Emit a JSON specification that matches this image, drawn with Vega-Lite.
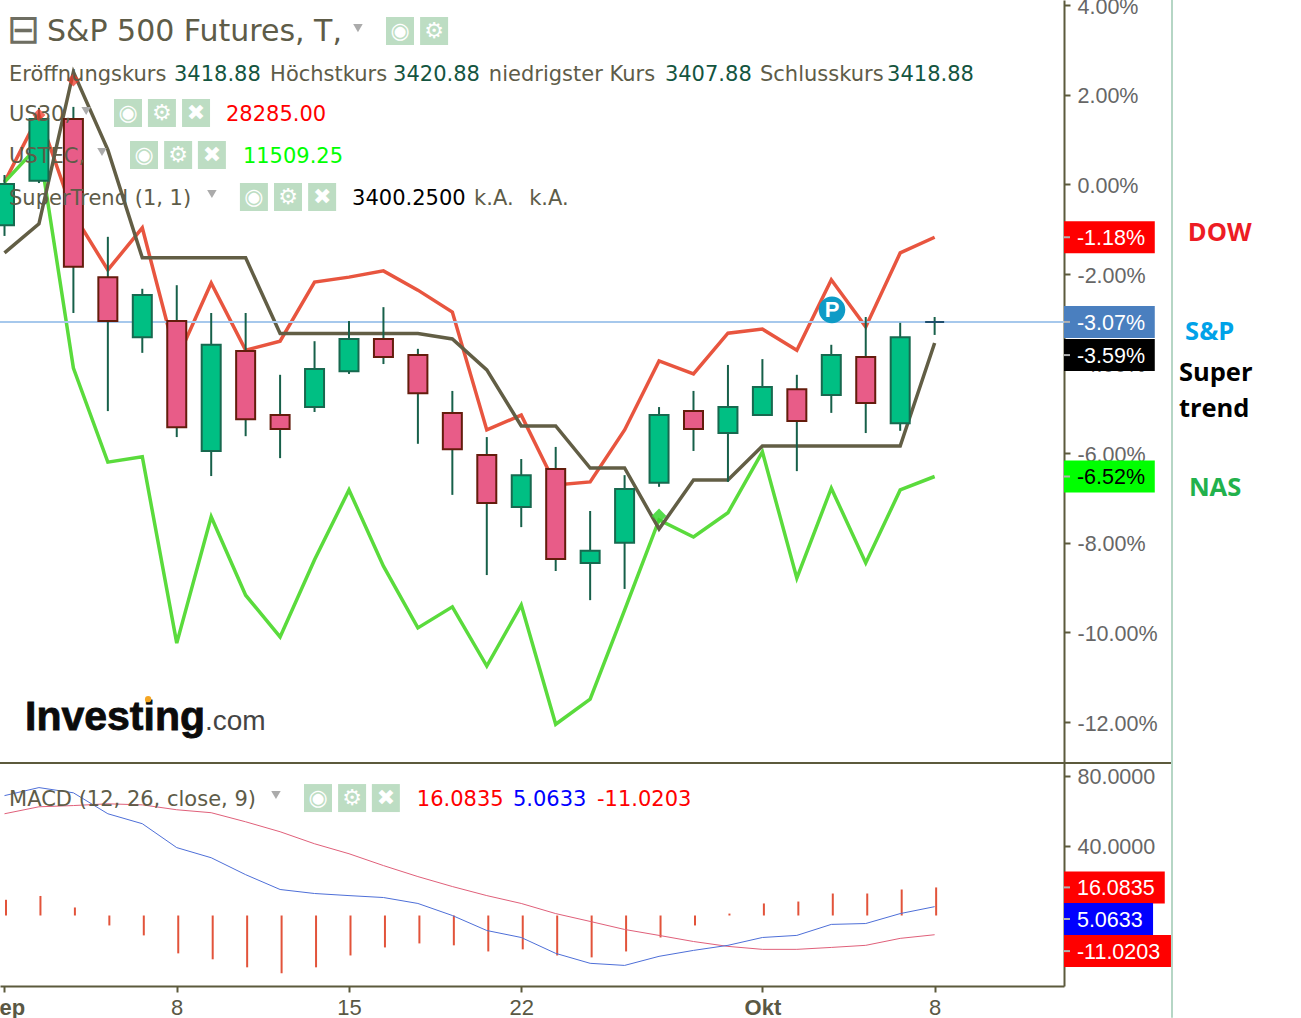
{
  "$schema": "https://vega.github.io/schema/vega-lite/v6.json",
  "width": 1301,
  "height": 1018,
  "padding": 0,
  "autosize": {"type": "none"},
  "background": "white",
  "config": {"view": {"stroke": null}},
  "datasets": {
    "days": [
      {"day":0,"top":0.01,"bottom":-0.91,"high":0.21,"low":-1.15,"dir":"up","dow":0.05,"nas":0.05,"supertrend":-1.53,"macd":68.7,"signal":58.3,"hist":9.0},
      {"day":1,"top":1.46,"bottom":0.08,"high":1.71,"low":0.03,"dir":"up","dow":1.55,"nas":0.88,"supertrend":-0.88,"macd":73.3,"signal":62.3,"hist":11.2},
      {"day":2,"top":1.46,"bottom":-1.84,"high":1.73,"low":-2.87,"dir":"down","dow":-0.66,"nas":-4.10,"supertrend":2.51,"macd":70.3,"signal":63.0,"hist":4.6},
      {"day":3,"top":-2.07,"bottom":-3.05,"high":-1.17,"low":-5.06,"dir":"down","dow":-1.91,"nas":-6.20,"supertrend":0.77,"macd":58.3,"signal":64.0,"hist":-5.7},
      {"day":4,"top":-2.47,"bottom":-3.41,"high":-2.33,"low":-3.76,"dir":"up","dow":-0.97,"nas":-6.08,"supertrend":-1.64,"macd":52.6,"signal":63.4,"hist":-11.4},
      {"day":5,"top":-3.05,"bottom":-5.42,"high":-2.25,"low":-5.64,"dir":"down","dow":-3.92,"nas":-10.24,"supertrend":-1.64,"macd":38.9,"signal":60.6,"hist":-21.7},
      {"day":6,"top":-3.58,"bottom":-5.95,"high":-2.87,"low":-6.51,"dir":"up","dow":-2.20,"nas":-7.42,"supertrend":-1.64,"macd":33.1,"signal":58.9,"hist":-25.1},
      {"day":7,"top":-3.72,"bottom":-5.24,"high":-2.87,"low":-5.62,"dir":"down","dow":-3.70,"nas":-9.17,"supertrend":-1.64,"macd":23.4,"signal":53.7,"hist":-29.7},
      {"day":8,"top":-5.15,"bottom":-5.46,"high":-4.25,"low":-6.11,"dir":"down","dow":-3.50,"nas":-10.10,"supertrend":-3.33,"macd":14.9,"signal":48.0,"hist":-33.1},
      {"day":9,"top":-4.12,"bottom":-4.97,"high":-3.50,"low":-5.08,"dir":"up","dow":-2.18,"nas":-8.38,"supertrend":-3.33,"macd":12.6,"signal":41.1,"hist":-29.7},
      {"day":10,"top":-3.45,"bottom":-4.17,"high":-3.05,"low":-4.23,"dir":"up","dow":-2.07,"nas":-6.82,"supertrend":-3.33,"macd":11.4,"signal":35.4,"hist":-22.9},
      {"day":11,"top":-3.45,"bottom":-3.85,"high":-2.74,"low":-4.01,"dir":"down","dow":-1.93,"nas":-8.52,"supertrend":-3.33,"macd":10.3,"signal":28.6,"hist":-18.3},
      {"day":12,"top":-3.81,"bottom":-4.66,"high":-3.67,"low":-5.79,"dir":"down","dow":-2.36,"nas":-9.90,"supertrend":-3.33,"macd":6.9,"signal":22.3,"hist":-16.0},
      {"day":13,"top":-5.10,"bottom":-5.91,"high":-4.61,"low":-6.93,"dir":"down","dow":-2.85,"nas":-9.43,"supertrend":-3.45,"macd":0.0,"signal":16.6,"hist":-17.1},
      {"day":14,"top":-6.04,"bottom":-7.11,"high":-5.64,"low":-8.72,"dir":"down","dow":-5.48,"nas":-10.75,"supertrend":-4.14,"macd":-8.6,"signal":11.4,"hist":-20.6},
      {"day":15,"top":-6.49,"bottom":-7.20,"high":-6.13,"low":-7.65,"dir":"up","dow":-5.15,"nas":-9.39,"supertrend":-5.39,"macd":-12.6,"signal":6.9,"hist":-19.4},
      {"day":16,"top":-6.35,"bottom":-8.36,"high":-5.86,"low":-8.63,"dir":"down","dow":-6.71,"nas":-12.05,"supertrend":-5.39,"macd":-21.7,"signal":1.1,"hist":-22.9},
      {"day":17,"top":-8.18,"bottom":-8.45,"high":-7.29,"low":-9.28,"dir":"up","dow":-6.64,"nas":-11.49,"supertrend":-6.33,"macd":-27.4,"signal":-3.4,"hist":-24.0},
      {"day":18,"top":-6.80,"bottom":-8.00,"high":-6.49,"low":-9.03,"dir":"up","dow":-5.48,"nas":-9.50,"supertrend":-6.33,"macd":-28.6,"signal":-8.0,"hist":-20.6},
      {"day":19,"top":-5.15,"bottom":-6.66,"high":-4.97,"low":-6.75,"dir":"up","dow":-3.94,"nas":-7.49,"supertrend":-7.69,"macd":-23.4,"signal":-11.4,"hist":-12.6},
      {"day":20,"top":-5.06,"bottom":-5.46,"high":-4.61,"low":-5.95,"dir":"down","dow":-4.23,"nas":-7.87,"supertrend":-6.60,"macd":-20.0,"signal":-14.9,"hist":-5.7},
      {"day":21,"top":-4.97,"bottom":-5.55,"high":-4.03,"low":-6.64,"dir":"up","dow":-3.32,"nas":-7.33,"supertrend":-6.60,"macd":-17.1,"signal":-17.7,"hist":1.1},
      {"day":22,"top":-4.52,"bottom":-5.15,"high":-3.90,"low":-5.17,"dir":"up","dow":-3.23,"nas":-5.97,"supertrend":-5.84,"macd":-12.6,"signal":-19.4,"hist":6.9},
      {"day":23,"top":-4.57,"bottom":-5.28,"high":-4.25,"low":-6.40,"dir":"down","dow":-3.70,"nas":-8.79,"supertrend":-5.84,"macd":-11.4,"signal":-19.4,"hist":8.0},
      {"day":24,"top":-3.81,"bottom":-4.70,"high":-3.58,"low":-5.10,"dir":"up","dow":-2.13,"nas":-6.78,"supertrend":-5.84,"macd":-5.1,"signal":-18.3,"hist":12.6},
      {"day":25,"top":-3.85,"bottom":-4.88,"high":-2.96,"low":-5.55,"dir":"down","dow":-3.18,"nas":-8.45,"supertrend":-5.84,"macd":-4.6,"signal":-17.1,"hist":12.6},
      {"day":26,"top":-3.41,"bottom":-5.33,"high":-3.09,"low":-5.50,"dir":"up","dow":-1.53,"nas":-6.82,"supertrend":-5.84,"macd":1.1,"signal":-13.1,"hist":14.9},
      {"day":27,"top":-3.07,"bottom":-3.07,"high":-2.96,"low":-3.36,"dir":"flat","dow":-1.18,"nas":-6.52,"supertrend":-3.54,"macd":5.06,"signal":-11.02,"hist":16.08}
    ]
  },
  "encoding": {
    "x": {
      "field": "day",
      "type": "quantitative",
      "scale": {"domain": [-0.1306, 30.755], "range": [0, 1064], "nice": false, "zero": false, "padding": 0},
      "axis": {
        "orient": "bottom",
        "offset": -32,
        "title": null,
        "grid": false,
        "values": [0, 5, 10, 15, 22, 27],
        "labelExpr": "datum.value == 0 ? 'Sep' : datum.value == 5 ? '8' : datum.value == 10 ? '15' : datum.value == 15 ? '22' : datum.value == 22 ? 'Okt' : '8'",
        "labelFontWeight": {"condition": {"test": "datum.value == 0 || datum.value == 22", "value": "bold"}, "value": "normal"},
        "labelFont": "Liberation Sans",
        "labelFontSize": 22,
        "labelColor": "#5A5844",
        "labelPadding": 5,
        "labelFlush": false,
        "labelOverlap": false,
        "labelBound": false,
        "domainColor": "#5C5A3C",
        "domainWidth": 2,
        "tickColor": "#5C5A3C",
        "tickWidth": 2,
        "tickSize": 6
      }
    }
  },
  "resolve": {"scale": {"y": "independent"}, "axis": {"y": "independent"}},
  "layer": [
    {
      "encoding": {
        "y": {
          "field": "pct",
          "type": "quantitative",
          "scale": {"domain": [-12.915, 4.116], "range": [763, 0], "nice": false, "zero": false, "padding": 0},
          "axis": {
            "orient": "right",
            "offset": -237,
            "title": null,
            "grid": false,
            "values": [4, 2, 0, -2, -4, -6, -8, -10, -12],
            "labelExpr": "(datum.value < 0 ? '-' : '') + format(abs(datum.value), '.2f') + '%'",
            "labelFont": "Liberation Sans",
            "labelFontSize": 21.5,
            "labelColor": "#666666",
            "labelPadding": 7,
            "labelOffset": 2,
            "labelOverlap": false,
            "labelFlush": false,
            "labelBound": false,
            "domainColor": "#5C5A3C",
            "domainWidth": 2,
            "tickColor": "#5C5A3C",
            "tickWidth": 2,
            "tickSize": 6
          }
        }
      },
      "layer": [
        {
          "data": {"name": "days"},
          "mark": {"type": "line", "color": "#E8553F", "strokeWidth": 3.5},
          "encoding": {"y": {"field": "dow", "type": "quantitative"}}
        },
        {
          "data": {"name": "days"},
          "mark": {"type": "line", "color": "#5ADB3C", "strokeWidth": 3.5},
          "encoding": {"y": {"field": "nas", "type": "quantitative"}}
        },
        {
          "data": {"name": "days"},
          "mark": {"type": "line", "color": "#625E45", "strokeWidth": 3.5},
          "encoding": {"y": {"field": "supertrend", "type": "quantitative"}}
        },
        {
          "data": {"values": [{"day": -0.1306, "day2": 30.755, "pct": -3.07}]},
          "mark": {"type": "rule", "color": "#A6C8EC", "strokeWidth": 2},
          "encoding": {"x2": {"field": "day2"}}
        },
        {
          "data": {"name": "days"},
          "mark": {"type": "rule", "color": "#17604A", "strokeWidth": 2},
          "encoding": {
            "y": {"field": "high", "type": "quantitative"},
            "y2": {"field": "low"}
          }
        },
        {
          "data": {"name": "days"},
          "mark": {"type": "bar", "size": 19, "strokeWidth": 2},
          "encoding": {
            "y": {"field": "top", "type": "quantitative"},
            "y2": {"field": "bottom"},
            "fill": {
              "field": "dir",
              "scale": {
                "domain": ["up", "down", "flat", "dow", "sp", "super", "nas", "hist", "blue", "signal"],
                "range": ["#00BF83", "#E85C88", "#1F4F6F", "#FF0000", "#4A7FBF", "#000000", "#00FF00", "#FF0000", "#0000FF", "#FF0000"]
              },
              "legend": null
            },
            "stroke": {
              "field": "dir",
              "scale": {"domain": ["up", "down", "flat"], "range": ["#17694F", "#641C0C", "#1F4F6F"]},
              "legend": null
            }
          }
        },
        {
          "data": {"values": [{"day": -0.1306, "day2": 33.89, "pct": -12.915}]},
          "mark": {"type": "rule", "color": "#5C5A3C", "strokeWidth": 2},
          "encoding": {"x2": {"field": "day2"}}
        },
        {
          "data": {"values": [{"day": 33.89, "pct": 4.116, "pct2": -18.6}]},
          "mark": {"type": "rule", "color": "#B5D6C5", "strokeWidth": 2},
          "encoding": {"y2": {"field": "pct2"}}
        },
        {
          "data": {"values": [
            {"day": 2, "pct": 2.33},
            {"day": 1, "pct": 1.55}
          ]},
          "mark": {"type": "point", "shape": "diamond", "filled": true, "size": 170, "color": "#EE3A2A", "opacity": 0.75}
        },
        {
          "data": {"values": [{"day": 19, "pct": -7.4}]},
          "mark": {"type": "point", "shape": "diamond", "filled": true, "size": 220, "color": "#38D62E", "opacity": 0.85}
        },
        {
          "data": {"values": [{"day": 24.02, "pct": -2.8}]},
          "mark": {"type": "point", "shape": "circle", "filled": true, "size": 707, "color": "#0E9BC6", "opacity": 1}
        },
        {
          "data": {"values": [{"day": 24.02, "pct": -2.8, "label": "P"}]},
          "mark": {"type": "text", "font": "Liberation Sans", "fontWeight": "bold", "fontSize": 22, "color": "white", "align": "center", "baseline": "middle"},
          "encoding": {"text": {"field": "label"}}
        },
        {
          "data": {"values": [
            {"day": 0.06, "pct": 3.447, "label": "⊟"}
          ]},
          "mark": {"type": "text", "font": "DejaVu Sans", "fontSize": 40, "color": "#6E6E62", "align": "left", "baseline": "middle", "dy": 1},
          "encoding": {"text": {"field": "label"}}
        },
        {
          "data": {"values": [{"day": 1.234, "pct": 3.447, "label": "S&P 500 Futures, T,"}]},
          "mark": {"type": "text", "font": "DejaVu Sans", "fontSize": 30, "color": "#5E5C48", "align": "left", "baseline": "middle", "dy": 2},
          "encoding": {"text": {"field": "label"}}
        },
        {
          "data": {"values": [
            {"day": 0.131, "pct": 2.486, "label": "Eröffnungskurs", "ink": "muted"},
            {"day": 4.92, "pct": 2.486, "label": "3418.88", "ink": "price"},
            {"day": 7.71, "pct": 2.486, "label": "Höchstkurs", "ink": "muted"},
            {"day": 11.28, "pct": 2.486, "label": "3420.88", "ink": "price"},
            {"day": 14.06, "pct": 2.486, "label": "niedrigster Kurs", "ink": "muted"},
            {"day": 19.17, "pct": 2.486, "label": "3407.88", "ink": "price"},
            {"day": 21.93, "pct": 2.486, "label": "Schlusskurs", "ink": "muted"},
            {"day": 25.62, "pct": 2.486, "label": "3418.88", "ink": "price"},
            {"day": 0.131, "pct": 1.594, "label": "US30,", "ink": "muted"},
            {"day": 6.43, "pct": 1.594, "label": "28285.00", "ink": "red"},
            {"day": 0.131, "pct": 0.656, "label": "USTEC,", "ink": "muted"},
            {"day": 6.92, "pct": 0.656, "label": "11509.25", "ink": "lime"},
            {"day": 0.131, "pct": -0.281, "label": "SuperTrend (1, 1)", "ink": "muted"},
            {"day": 10.09, "pct": -0.281, "label": "3400.2500", "ink": "black"},
            {"day": 13.63, "pct": -0.281, "label": "k.A.", "ink": "muted"},
            {"day": 15.23, "pct": -0.281, "label": "k.A.", "ink": "muted"}
          ]},
          "mark": {"type": "text", "font": "DejaVu Sans", "fontSize": 21, "align": "left", "baseline": "middle", "dy": 2},
          "encoding": {
            "text": {"field": "label"},
            "color": {
              "field": "ink",
              "scale": {
                "domain": ["muted", "price", "red", "lime", "black", "blue", "white", "dow", "sp", "nas"],
                "range": ["#5E5C48", "#14553F", "#FF0000", "#00FF00", "#000000", "#0000FF", "#FFFFFF", "#ED1C24", "#00A2E8", "#22B14C"]
              },
              "legend": null
            }
          }
        },
        {
          "data": {"values": [
            {"day": 10.26, "pct": 3.49},
            {"day": 2.37, "pct": 1.638},
            {"day": 2.83, "pct": 0.723},
            {"day": 6.02, "pct": -0.214}
          ]},
          "mark": {"type": "point", "shape": "triangle-down", "filled": true, "size": 90, "color": "#ABABAB", "opacity": 1}
        },
        {
          "data": {"values": [
            {"day": 11.48, "pct": 3.424, "glyph": "◉"},
            {"day": 12.47, "pct": 3.424, "glyph": "⚙"},
            {"day": 3.585, "pct": 1.594, "glyph": "◉"},
            {"day": 4.57, "pct": 1.594, "glyph": "⚙"},
            {"day": 5.56, "pct": 1.594, "glyph": "✖"},
            {"day": 4.05, "pct": 0.656, "glyph": "◉"},
            {"day": 5.04, "pct": 0.656, "glyph": "⚙"},
            {"day": 6.02, "pct": 0.656, "glyph": "✖"},
            {"day": 7.24, "pct": -0.281, "glyph": "◉"},
            {"day": 8.23, "pct": -0.281, "glyph": "⚙"},
            {"day": 9.22, "pct": -0.281, "glyph": "✖"}
          ]},
          "layer": [
            {"mark": {"type": "point", "shape": "square", "filled": true, "size": 784, "color": "#BDDDC3", "opacity": 1}},
            {
              "mark": {"type": "text", "font": "DejaVu Sans", "fontSize": 22, "color": "white", "align": "center", "baseline": "middle"},
              "encoding": {"text": {"field": "glyph"}}
            }
          ]
        },
        {
          "data": {"values": [{"day": 0.595, "pct": -11.97, "label": "Investing"}]},
          "mark": {"type": "text", "font": "Liberation Sans", "fontWeight": "bold", "fontSize": 41, "color": "#0B0B0B", "stroke": "#0B0B0B", "strokeWidth": 0.8, "align": "left", "baseline": "middle", "dy": -3},
          "encoding": {"text": {"field": "label"}}
        },
        {
          "data": {"values": [{"day": 5.82, "pct": -12.02, "label": ".com"}]},
          "mark": {"type": "text", "font": "Liberation Sans", "fontSize": 28, "color": "#444444", "align": "left", "baseline": "middle", "dy": -1},
          "encoding": {"text": {"field": "label"}}
        },
        {
          "data": {"values": [{"day": 4.17, "pct": -11.49}]},
          "mark": {"type": "point", "shape": "circle", "filled": true, "size": 40, "color": "#F5A623", "opacity": 1}
        },
        {
          "data": {"values": [
            {"day": 30.755, "day2": 33.39, "tickEnd": 30.93, "labelDay": 31.13, "pct": -1.18, "tag": "dow", "label": "-1.18%", "ink": "white"},
            {"day": 30.755, "day2": 33.39, "tickEnd": 30.93, "labelDay": 31.13, "pct": -3.07, "tag": "sp", "label": "-3.07%", "ink": "white"},
            {"day": 30.755, "day2": 33.39, "tickEnd": 30.93, "labelDay": 31.13, "pct": -3.81, "tag": "super", "label": "-3.59%", "ink": "white"},
            {"day": 30.755, "day2": 33.39, "tickEnd": 30.93, "labelDay": 31.13, "pct": -6.52, "tag": "nas", "label": "-6.52%", "ink": "black"}
          ]},
          "layer": [
            {
              "mark": {"type": "bar", "orient": "horizontal", "size": 32},
              "encoding": {
                "x2": {"field": "day2"},
                "fill": {
                  "field": "tag",
                  "scale": {
                    "domain": ["up", "down", "flat", "dow", "sp", "super", "nas", "hist", "blue", "signal"],
                    "range": ["#00BF83", "#E85C88", "#1F4F6F", "#FF0000", "#4A7FBF", "#000000", "#00FF00", "#FF0000", "#0000FF", "#FF0000"]
                  },
                  "legend": null
                }
              }
            },
            {
              "mark": {"type": "rule", "color": "#B0B0B0", "strokeWidth": 2},
              "encoding": {"x2": {"field": "tickEnd"}}
            },
            {
              "mark": {"type": "text", "font": "Liberation Sans", "fontSize": 21.5, "align": "left", "baseline": "middle", "dy": 2},
              "encoding": {
                "x": {"field": "labelDay", "type": "quantitative"},
                "text": {"field": "label"},
                "color": {
                  "field": "ink",
                  "scale": {
                    "domain": ["muted", "price", "red", "lime", "black", "blue", "white", "dow", "sp", "nas"],
                    "range": ["#5E5C48", "#14553F", "#FF0000", "#00FF00", "#000000", "#0000FF", "#FFFFFF", "#ED1C24", "#00A2E8", "#22B14C"]
                  },
                  "legend": null
                }
              }
            }
          ]
        },
        {
          "data": {"values": [
            {"day": 34.35, "pct": -1.06, "label": "DOW", "ink": "dow"},
            {"day": 34.27, "pct": -3.27, "label": "S&P", "ink": "sp"},
            {"day": 34.09, "pct": -4.19, "label": "Super", "ink": "black"},
            {"day": 34.09, "pct": -4.99, "label": "trend", "ink": "black"},
            {"day": 34.38, "pct": -6.75, "label": "NAS", "ink": "nas"}
          ]},
          "mark": {"type": "text", "font": "Open Sans", "fontWeight": "bold", "fontSize": 25.5, "align": "left", "baseline": "middle", "dy": 1},
          "encoding": {
            "text": {"field": "label"},
            "color": {
              "field": "ink",
              "scale": {
                "domain": ["muted", "price", "red", "lime", "black", "blue", "white", "dow", "sp", "nas"],
                "range": ["#5E5C48", "#14553F", "#FF0000", "#00FF00", "#000000", "#0000FF", "#FFFFFF", "#ED1C24", "#00A2E8", "#22B14C"]
              },
              "legend": null
            }
          }
        }
      ]
    },
    {
      "encoding": {
        "y": {
          "field": "macd",
          "type": "quantitative",
          "scale": {"domain": [-40.4, 87.39], "range": [986, 763], "nice": false, "zero": false, "padding": 0},
          "axis": {
            "orient": "right",
            "offset": -237,
            "title": null,
            "grid": false,
            "values": [80, 40],
            "format": ".4f",
            "labelFont": "Liberation Sans",
            "labelFontSize": 21.5,
            "labelColor": "#666666",
            "labelPadding": 7,
            "labelOffset": 2,
            "labelOverlap": false,
            "labelFlush": false,
            "labelBound": false,
            "domainColor": "#5C5A3C",
            "domainWidth": 2,
            "tickColor": "#5C5A3C",
            "tickWidth": 2,
            "tickSize": 6
          }
        }
      },
      "layer": [
        {
          "data": {"name": "days"},
          "mark": {"type": "rule", "color": "#E2533A", "strokeWidth": 2, "xOffset": 1.5},
          "encoding": {
            "y": {"field": "hist", "type": "quantitative"},
            "y2": {"datum": 0}
          }
        },
        {
          "data": {"name": "days"},
          "mark": {"type": "line", "color": "#E0607A", "strokeWidth": 1},
          "encoding": {"y": {"field": "signal", "type": "quantitative"}}
        },
        {
          "data": {"name": "days"},
          "mark": {"type": "line", "color": "#4E6FD8", "strokeWidth": 1}
        },
        {
          "data": {"values": [
            {"day": 0.131, "macd": 67.3, "label": "MACD (12, 26, close, 9)", "ink": "muted"},
            {"day": 11.97, "macd": 67.3, "label": "16.0835", "ink": "red"},
            {"day": 14.76, "macd": 67.3, "label": "5.0633", "ink": "blue"},
            {"day": 17.2, "macd": 67.3, "label": "-11.0203", "ink": "red"}
          ]},
          "mark": {"type": "text", "font": "DejaVu Sans", "fontSize": 21, "align": "left", "baseline": "middle", "dy": 2},
          "encoding": {
            "text": {"field": "label"},
            "color": {
              "field": "ink",
              "scale": {
                "domain": ["muted", "price", "red", "lime", "black", "blue", "white", "dow", "sp", "nas"],
                "range": ["#5E5C48", "#14553F", "#FF0000", "#00FF00", "#000000", "#0000FF", "#FFFFFF", "#ED1C24", "#00A2E8", "#22B14C"]
              },
              "legend": null
            }
          }
        },
        {
          "data": {"values": [{"day": 7.88, "macd": 69.05}]},
          "mark": {"type": "point", "shape": "triangle-down", "filled": true, "size": 90, "color": "#ABABAB", "opacity": 1}
        },
        {
          "data": {"values": [
            {"day": 9.1, "macd": 67.3, "glyph": "◉"},
            {"day": 10.09, "macd": 67.3, "glyph": "⚙"},
            {"day": 11.07, "macd": 67.3, "glyph": "✖"}
          ]},
          "layer": [
            {"mark": {"type": "point", "shape": "square", "filled": true, "size": 784, "color": "#BDDDC3", "opacity": 1}},
            {
              "mark": {"type": "text", "font": "DejaVu Sans", "fontSize": 22, "color": "white", "align": "center", "baseline": "middle"},
              "encoding": {"text": {"field": "glyph"}}
            }
          ]
        },
        {
          "data": {"values": [
            {"day": 30.755, "day2": 33.68, "tickEnd": 30.93, "labelDay": 31.13, "macd": 16.1, "tag": "hist", "label": "16.0835"},
            {"day": 30.755, "day2": 33.34, "tickEnd": 30.93, "labelDay": 31.13, "macd": -2.0, "tag": "blue", "label": "5.0633"},
            {"day": 30.755, "day2": 33.86, "tickEnd": 30.93, "labelDay": 31.13, "macd": -20.4, "tag": "signal", "label": "-11.0203"}
          ]},
          "layer": [
            {
              "mark": {"type": "bar", "orient": "horizontal", "size": 32},
              "encoding": {
                "x2": {"field": "day2"},
                "fill": {
                  "field": "tag",
                  "scale": {
                    "domain": ["up", "down", "flat", "dow", "sp", "super", "nas", "hist", "blue", "signal"],
                    "range": ["#00BF83", "#E85C88", "#1F4F6F", "#FF0000", "#4A7FBF", "#000000", "#00FF00", "#FF0000", "#0000FF", "#FF0000"]
                  },
                  "legend": null
                }
              }
            },
            {
              "mark": {"type": "rule", "color": "#B0B0B0", "strokeWidth": 2},
              "encoding": {"x2": {"field": "tickEnd"}}
            },
            {
              "mark": {"type": "text", "font": "Liberation Sans", "fontSize": 21.5, "color": "white", "align": "left", "baseline": "middle", "dy": 2},
              "encoding": {
                "x": {"field": "labelDay", "type": "quantitative"},
                "text": {"field": "label"}
              }
            }
          ]
        }
      ]
    }
  ]
}
